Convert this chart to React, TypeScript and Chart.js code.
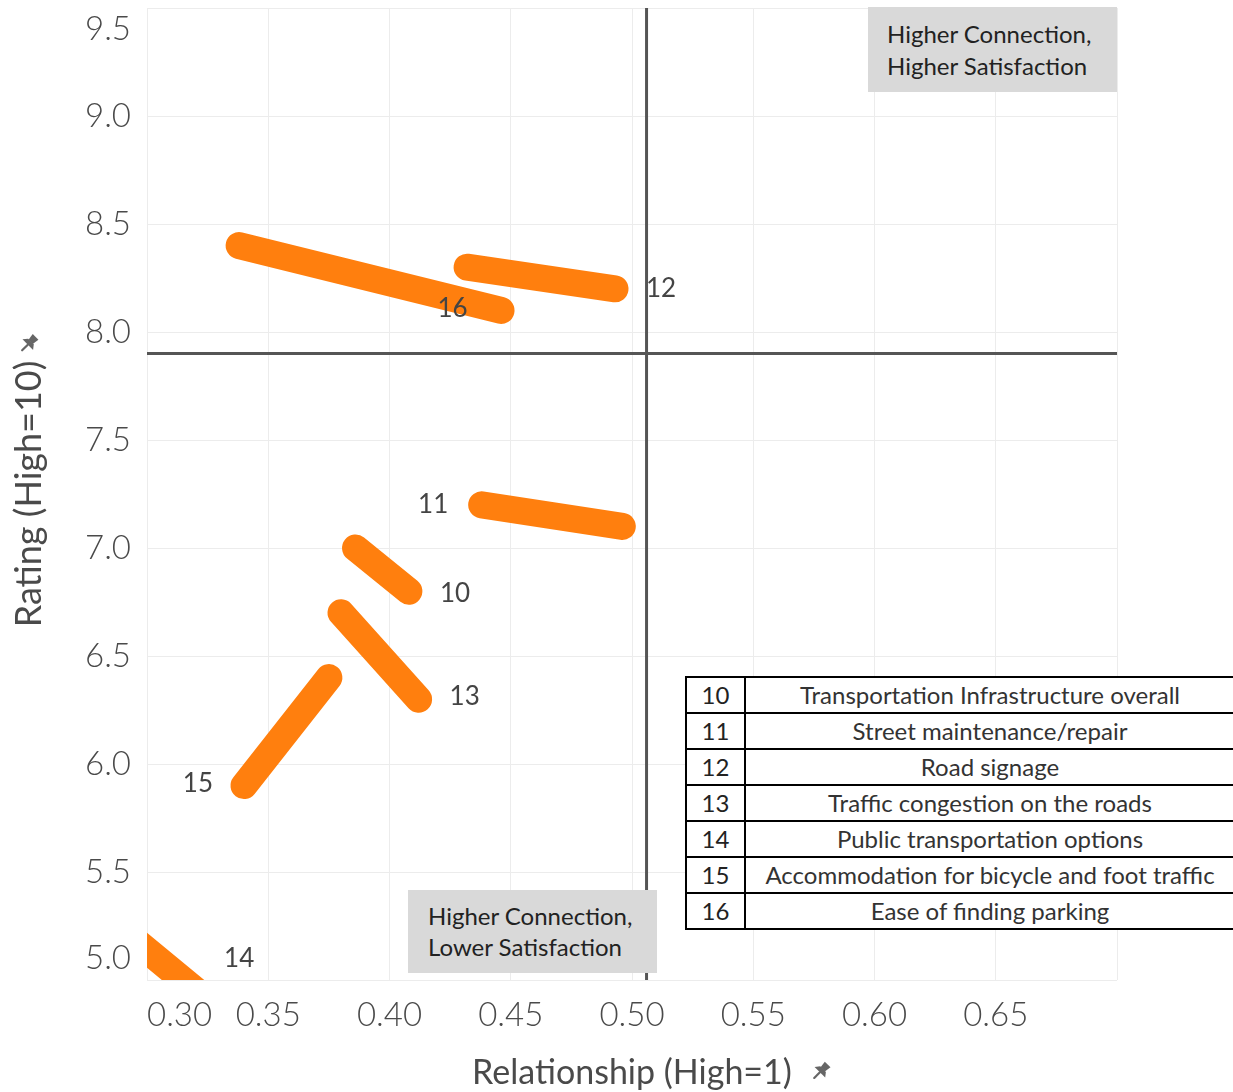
import React, { useEffect, useRef } from 'react';
import { Chart, registerables } from 'chart.js';

Chart.register(...registerables);

// ---- data ----
const itemIds = ['10', '11', '12', '13', '14', '15', '16'];
const itemNames = [
  'Transportation Infrastructure overall',
  'Street maintenance/repair',
  'Road signage',
  'Traffic congestion on the roads',
  'Public transportation options',
  'Accommodation for bicycle and foot traffic',
  'Ease of finding parking',
];
const relStart = [0.386, 0.438, 0.432, 0.380, 0.290, 0.340, 0.338];
const ratingStart = [7.0, 7.2, 8.3, 6.7, 5.23, 5.9, 8.4];
const relEnd = [0.408, 0.496, 0.493, 0.412, 0.330, 0.375, 0.446];
const ratingEnd = [6.8, 7.1, 8.2, 6.3, 4.86, 6.4, 8.1];
const labelRel = [0.427, 0.418, 0.512, 0.431, 0.338, 0.321, 0.426];
const labelRating = [6.79, 7.2, 8.2, 6.31, 5.1, 5.91, 8.11];
const xTicks = [0.3, 0.35, 0.4, 0.45, 0.5, 0.55, 0.6, 0.65, 0.7];
const yTicks = [5.0, 5.5, 6.0, 6.5, 7.0, 7.5, 8.0, 8.5, 9.0, 9.5];
const refRelationship = 0.506;
const refRating = 7.9;
const xTitle = 'Relationship (High=1)';
const yTitle = 'Rating (High=10)';
const noteTop = ['Higher Connection,', 'Higher Satisfaction'];
const noteBottom = ['Higher Connection,', 'Lower Satisfaction'];

const ORANGE = '#ff7f0e';
const REF = '#555555';
const GRID = '#ececec';
const TICK_COLOR = '#4a4a4a';
const X_TITLE_FONT = { family: 'Lato', size: 34, weight: 'normal' as const, lineHeight: 1.1 };
const Y_TITLE_FONT = { family: 'Lato', size: 36, weight: 'normal' as const, lineHeight: 1.1 };

function drawPin(ctx: CanvasRenderingContext2D, cx: number, cy: number) {
  ctx.save();
  ctx.translate(cx, cy);
  ctx.rotate(Math.PI / 4);
  ctx.fillStyle = '#666';
  ctx.strokeStyle = '#666';
  // head
  ctx.beginPath();
  ctx.moveTo(-4, -11);
  ctx.lineTo(4, -11);
  ctx.lineTo(3, -4);
  ctx.lineTo(-3, -4);
  ctx.closePath();
  ctx.fill();
  // flange
  ctx.beginPath();
  ctx.moveTo(-7.5, 0);
  ctx.lineTo(7.5, 0);
  ctx.lineTo(4, -4.5);
  ctx.lineTo(-4, -4.5);
  ctx.closePath();
  ctx.fill();
  // needle
  ctx.lineWidth = 2.2;
  ctx.lineCap = 'round';
  ctx.beginPath();
  ctx.moveTo(0, 0);
  ctx.lineTo(0, 8);
  ctx.stroke();
  ctx.restore();
}

const overlayPlugin = {
  id: 'overlay',
  afterDatasetsDraw(chart: any) {
    const { ctx, scales } = chart;
    const xs = scales.x;
    const ys = scales.y;
    ctx.save();
    ctx.font = '26px Lato';
    ctx.fillStyle = '#444';
    ctx.textAlign = 'center';
    ctx.textBaseline = 'middle';
    itemIds.forEach((id, i) => {
      ctx.fillText(id, xs.getPixelForValue(labelRel[i]), ys.getPixelForValue(labelRating[i]));
    });
    ctx.restore();
  },
  afterDraw(chart: any) {
    const { ctx, scales, chartArea } = chart;
    ctx.save();
    // x title pin
    ctx.font = `${X_TITLE_FONT.size}px ${X_TITLE_FONT.family}`;
    const wx = ctx.measureText(xTitle).width;
    const cx = (chartArea.left + chartArea.right) / 2;
    const xTitleY = scales.x.bottom - (X_TITLE_FONT.size * X_TITLE_FONT.lineHeight) / 2;
    drawPin(ctx, cx + wx / 2 + 28, xTitleY - 1);
    // y title pin
    ctx.font = `${Y_TITLE_FONT.size}px ${Y_TITLE_FONT.family}`;
    const wy = ctx.measureText(yTitle).width;
    const cy = (chartArea.top + chartArea.bottom) / 2;
    const yTitleX = scales.y.left + (Y_TITLE_FONT.size * Y_TITLE_FONT.lineHeight) / 2 + 10;
    drawPin(ctx, yTitleX - 2, cy - wy / 2 - 16);
    ctx.restore();
  },
};

export default function App() {
  const ref = useRef<HTMLCanvasElement>(null);

  useEffect(() => {
    const segments = itemIds.map((id, i) => ({
      label: id,
      data: [
        { x: relStart[i], y: ratingStart[i] },
        { x: relEnd[i], y: ratingEnd[i] },
      ],
      showLine: true,
      borderColor: ORANGE,
      backgroundColor: ORANGE,
      borderWidth: 27,
      borderCapStyle: 'round',
      pointRadius: 0,
      pointHoverRadius: 0,
      clip: 0,
    }));
    const refLines = [
      {
        label: 'vertical reference',
        data: [
          { x: refRelationship, y: yTicks[0] },
          { x: refRelationship, y: yTicks[yTicks.length - 1] },
        ],
        showLine: true,
        borderColor: REF,
        borderWidth: 3,
        pointRadius: 0,
        clip: 0,
      },
      {
        label: 'horizontal reference',
        data: [
          { x: xTicks[0], y: refRating },
          { x: xTicks[xTicks.length - 1], y: refRating },
        ],
        showLine: true,
        borderColor: REF,
        borderWidth: 3,
        pointRadius: 0,
        clip: 0,
      },
    ];

    const chart = new Chart(ref.current as HTMLCanvasElement, {
      type: 'scatter',
      data: { datasets: [...segments, ...refLines] as any },
      plugins: [overlayPlugin],
      options: {
        animation: false,
        responsive: false,
        events: [],
        layout: { autoPadding: false, padding: { top: 8, right: 116, left: 0, bottom: 0 } },
        plugins: { legend: { display: false }, tooltip: { enabled: false } },
        scales: {
          x: {
            type: 'linear',
            min: xTicks[0],
            max: xTicks[xTicks.length - 1],
            afterBuildTicks: (s: any) => {
              s.ticks = xTicks.map((v) => ({ value: v }));
            },
            afterFit: (s: any) => {
              s.height = 112;
              s.paddingLeft = 0;
              s.paddingRight = 0;
              s.paddingTop = 0;
              s.paddingBottom = 0;
            },
            grid: { color: GRID, lineWidth: 1, drawTicks: false },
            border: { display: false },
            ticks: {
              align: 'inner',
              padding: 16,
              color: TICK_COLOR,
              font: { family: 'Lato', size: 33, weight: '300' },
              callback: (v: any, idx: number) => (idx === xTicks.length - 1 ? '' : Number(v).toFixed(2)),
            },
            title: {
              display: true,
              text: xTitle,
              color: TICK_COLOR,
              font: X_TITLE_FONT,
              padding: { top: 0, bottom: 0 },
            },
          },
          y: {
            type: 'linear',
            min: yTicks[0],
            max: yTicks[yTicks.length - 1],
            afterBuildTicks: (s: any) => {
              s.ticks = yTicks.map((v) => ({ value: v }));
            },
            afterFit: (s: any) => {
              s.width = 147;
              s.paddingLeft = 0;
              s.paddingRight = 0;
              s.paddingTop = 0;
              s.paddingBottom = 0;
            },
            grid: { color: GRID, lineWidth: 1, drawTicks: false },
            border: { display: false },
            ticks: {
              padding: 16,
              color: TICK_COLOR,
              font: { family: 'Lato', size: 33, weight: '300', lineHeight: 1.3 },
              // keep the end labels inside the plot height (two-line trick)
              callback: (v: any, idx: number) => {
                const t = Number(v).toFixed(1);
                if (idx === 0) return [t, ''];
                if (idx === yTicks.length - 1) return ['', t];
                return t;
              },
            },
            title: {
              display: true,
              text: yTitle,
              color: TICK_COLOR,
              font: Y_TITLE_FONT,
              padding: { top: 10, bottom: 0 },
            },
          },
        },
      } as any,
    });
    return () => chart.destroy();
  }, []);

  const boxText: React.CSSProperties = {
    fontFamily: 'Lato',
    fontSize: 24,
    color: '#222',
    whiteSpace: 'nowrap',
  };

  return (
    <div style={{ position: 'absolute', left: 0, top: 0, width: 1233, height: 1092, overflow: 'hidden', background: '#fff' }}>
      <canvas ref={ref} width={1233} height={1092} style={{ position: 'absolute', left: 0, top: 0, width: 1233, height: 1092 }} />
      <div style={{ position: 'absolute', left: 868, top: 7, width: 249, height: 85, background: '#d9d9d9', boxSizing: 'border-box', padding: '11px 0 0 19px', lineHeight: '32px', ...boxText }}>
        {noteTop.map((t) => (
          <div key={t}>{t}</div>
        ))}
      </div>
      <div style={{ position: 'absolute', left: 408, top: 890, width: 249, height: 83, background: '#d9d9d9', boxSizing: 'border-box', padding: '10px 0 0 20px', lineHeight: '31px', ...boxText }}>
        {noteBottom.map((t) => (
          <div key={t}>{t}</div>
        ))}
      </div>
      <div style={{ position: 'absolute', left: 685, top: 676, width: 560, height: 254, background: '#fff' }}>
        {itemIds.map((id, i) => (
          <React.Fragment key={id}>
            <div style={{ position: 'absolute', left: 0, top: 2 + 36 * i, width: 61, height: 34, lineHeight: '34px', textAlign: 'center', fontFamily: 'Lato', fontSize: 24, color: '#222' }}>{id}</div>
            <div style={{ position: 'absolute', left: 61, top: 2 + 36 * i, width: 488, height: 34, lineHeight: '34px', textAlign: 'center', fontFamily: 'Lato', fontSize: 24, color: '#333', whiteSpace: 'nowrap' }}>{itemNames[i]}</div>
          </React.Fragment>
        ))}
        {itemIds.concat(['end']).map((k, i) => (
          <div key={'h' + k} style={{ position: 'absolute', left: 0, top: 36 * i, width: 560, height: 2, background: '#000' }} />
        ))}
        <div style={{ position: 'absolute', left: 0, top: 0, width: 2, height: 254, background: '#000' }} />
        <div style={{ position: 'absolute', left: 59, top: 0, width: 2, height: 254, background: '#000' }} />
      </div>
    </div>
  );
}
